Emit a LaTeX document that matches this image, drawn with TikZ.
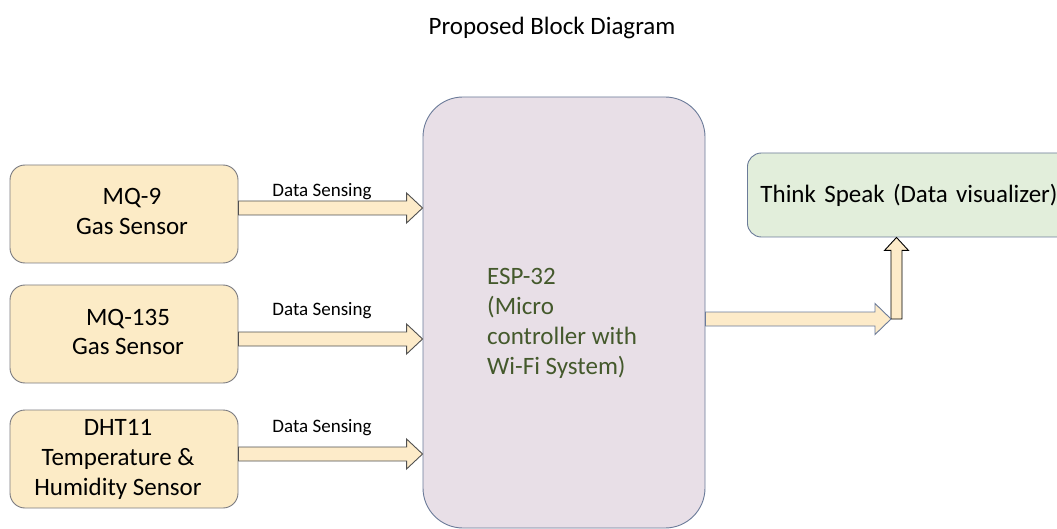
\documentclass[tikz,border=0pt]{standalone}
\usepackage{fontspec}
\setmainfont{Carlito}
\usetikzlibrary{calc}
\definecolor{bordercol}{HTML}{6B7B99}
\definecolor{sensorline}{HTML}{7A7A80}
\definecolor{sensorfill}{HTML}{FCEBC6}
\definecolor{espfill}{HTML}{E8DFE7}
\definecolor{thinkfill}{HTML}{E2EEDB}
\definecolor{arrowfill}{HTML}{FDEBC9}
\definecolor{arrowline}{HTML}{505050}
\definecolor{esptext}{HTML}{44592C}
\newcommand\blockright[4]{%
  \draw[#4] ($(#1)+(0,-7)$) -- ($(#2)+(-16,-7)$) -- ($(#2)+(-16,-#3)$) -- (#2)
    -- ($(#2)+(-16,#3)$) -- ($(#2)+(-16,7)$) -- ($(#1)+(0,7)$) -- cycle;}
\newcommand\blockup[3]{%
  \draw[#3] ($(#1)+(-5.5,0)$) -- ($(#2)+(-5.5,13)$) -- ($(#2)+(-12,13)$) -- (#2)
    -- ($(#2)+(12,13)$) -- ($(#2)+(5.5,13)$) -- ($(#1)+(5.5,0)$) -- cycle;}
% centred lines, whole block moved sideways by half of #1 (pt) and lowered by #2 (pt)
\newcommand\shiftedlines[3]{\hspace*{#1pt}\raisebox{-#2pt}{\begin{tabular}{@{}c@{}}#3\end{tabular}}}
\begin{document}
\begin{tikzpicture}[x=1pt,y=-1pt,
  sensor/.style={draw=sensorline, fill=sensorfill, line width=0.9pt, rounded corners=15pt,
    minimum width=228pt, minimum height=98pt, inner sep=0pt,
    font=\fontsize{25}{30}\selectfont},
  esp/.style={draw=bordercol, fill=espfill, line width=0.9pt, rounded corners=40pt,
    minimum width=282pt, minimum height=431pt, inner sep=0pt},
  esptxt/.style={anchor=base west, inner sep=0pt, align=left,
    text=esptext, font=\fontsize{25}{30}\selectfont},
  think/.style={draw=bordercol, fill=thinkfill, line width=0.9pt, rounded corners=14pt,
    minimum height=84pt, inner xsep=13pt, inner ysep=0pt, text width=314pt, align=left,
    font=\fontsize{25}{30}\selectfont},
  lbl/.style={font=\fontsize{19}{23}\selectfont, anchor=base, inner sep=0pt},
  title/.style={font=\fontsize{25}{30}\selectfont, anchor=base, inner sep=0pt},
  inarrow/.style={draw=arrowline, fill=arrowfill, line width=0.9pt, line join=miter},
  outarrow/.style={draw=bordercol, fill=arrowfill, line width=0.9pt, line join=miter},
  uparrow/.style={draw=black, fill=arrowfill, line width=0.9pt, line join=miter}]
\clip (0,0) rectangle (1057,529);
\fill[white] (0,0) rectangle (1057,529);

\node[title] (title) at (552,35) {Proposed Block Diagram};

\node[sensor] (s1) at (124,214) {\shiftedlines{16}{3}{MQ-9\\Gas Sensor}};
\node[sensor] (s2) at (124,334) {\shiftedlines{8}{3}{MQ-135\\Gas Sensor}};
\node[sensor] (s3) at (124,459) {\shiftedlines{-12}{0}{DHT11\\Temperature \&\\Humidity Sensor}};

\node[esp] (esp) at (564,312.5) {};
\node[esptxt] (espt) at (487,374) {ESP-32\\(Micro\\controller with\\Wi-Fi System)};

\node[think, anchor=west] (ts) at (747,195) {Think Speak (Data visualizer)};

% input arrows
\coordinate (a1s) at ($(s1.east)+(0,-6)$);
\coordinate (a1e) at (esp.west |- a1s);
\coordinate (a2s) at ($(s2.east)+(0,5)$);
\coordinate (a2e) at (esp.west |- a2s);
\coordinate (a3s) at ($(s3.east)+(0,-5)$);
\coordinate (a3e) at (esp.west |- a3s);
\blockright{a1s}{a1e}{15}{inarrow}
\blockright{a2s}{a2e}{15}{inarrow}
\blockright{a3s}{a3e}{15}{inarrow}

\node[lbl] (l1) at (322,197) {Data Sensing};
\node[lbl] (l2) at (322,315) {Data Sensing};
\node[lbl] (l3) at (322,432) {Data Sensing};

% output arrows
\coordinate (o1) at ($(esp.east)+(0,6.5)$);
\coordinate (v1) at (896.5,319);
\coordinate (v2) at (ts.south -| v1);
\coordinate (o2) at ($(v1)+(-5.5,0)$);
\blockup{v1}{v2}{uparrow}
\blockright{o1}{o2}{15.5}{outarrow}
\end{tikzpicture}
\end{document}
